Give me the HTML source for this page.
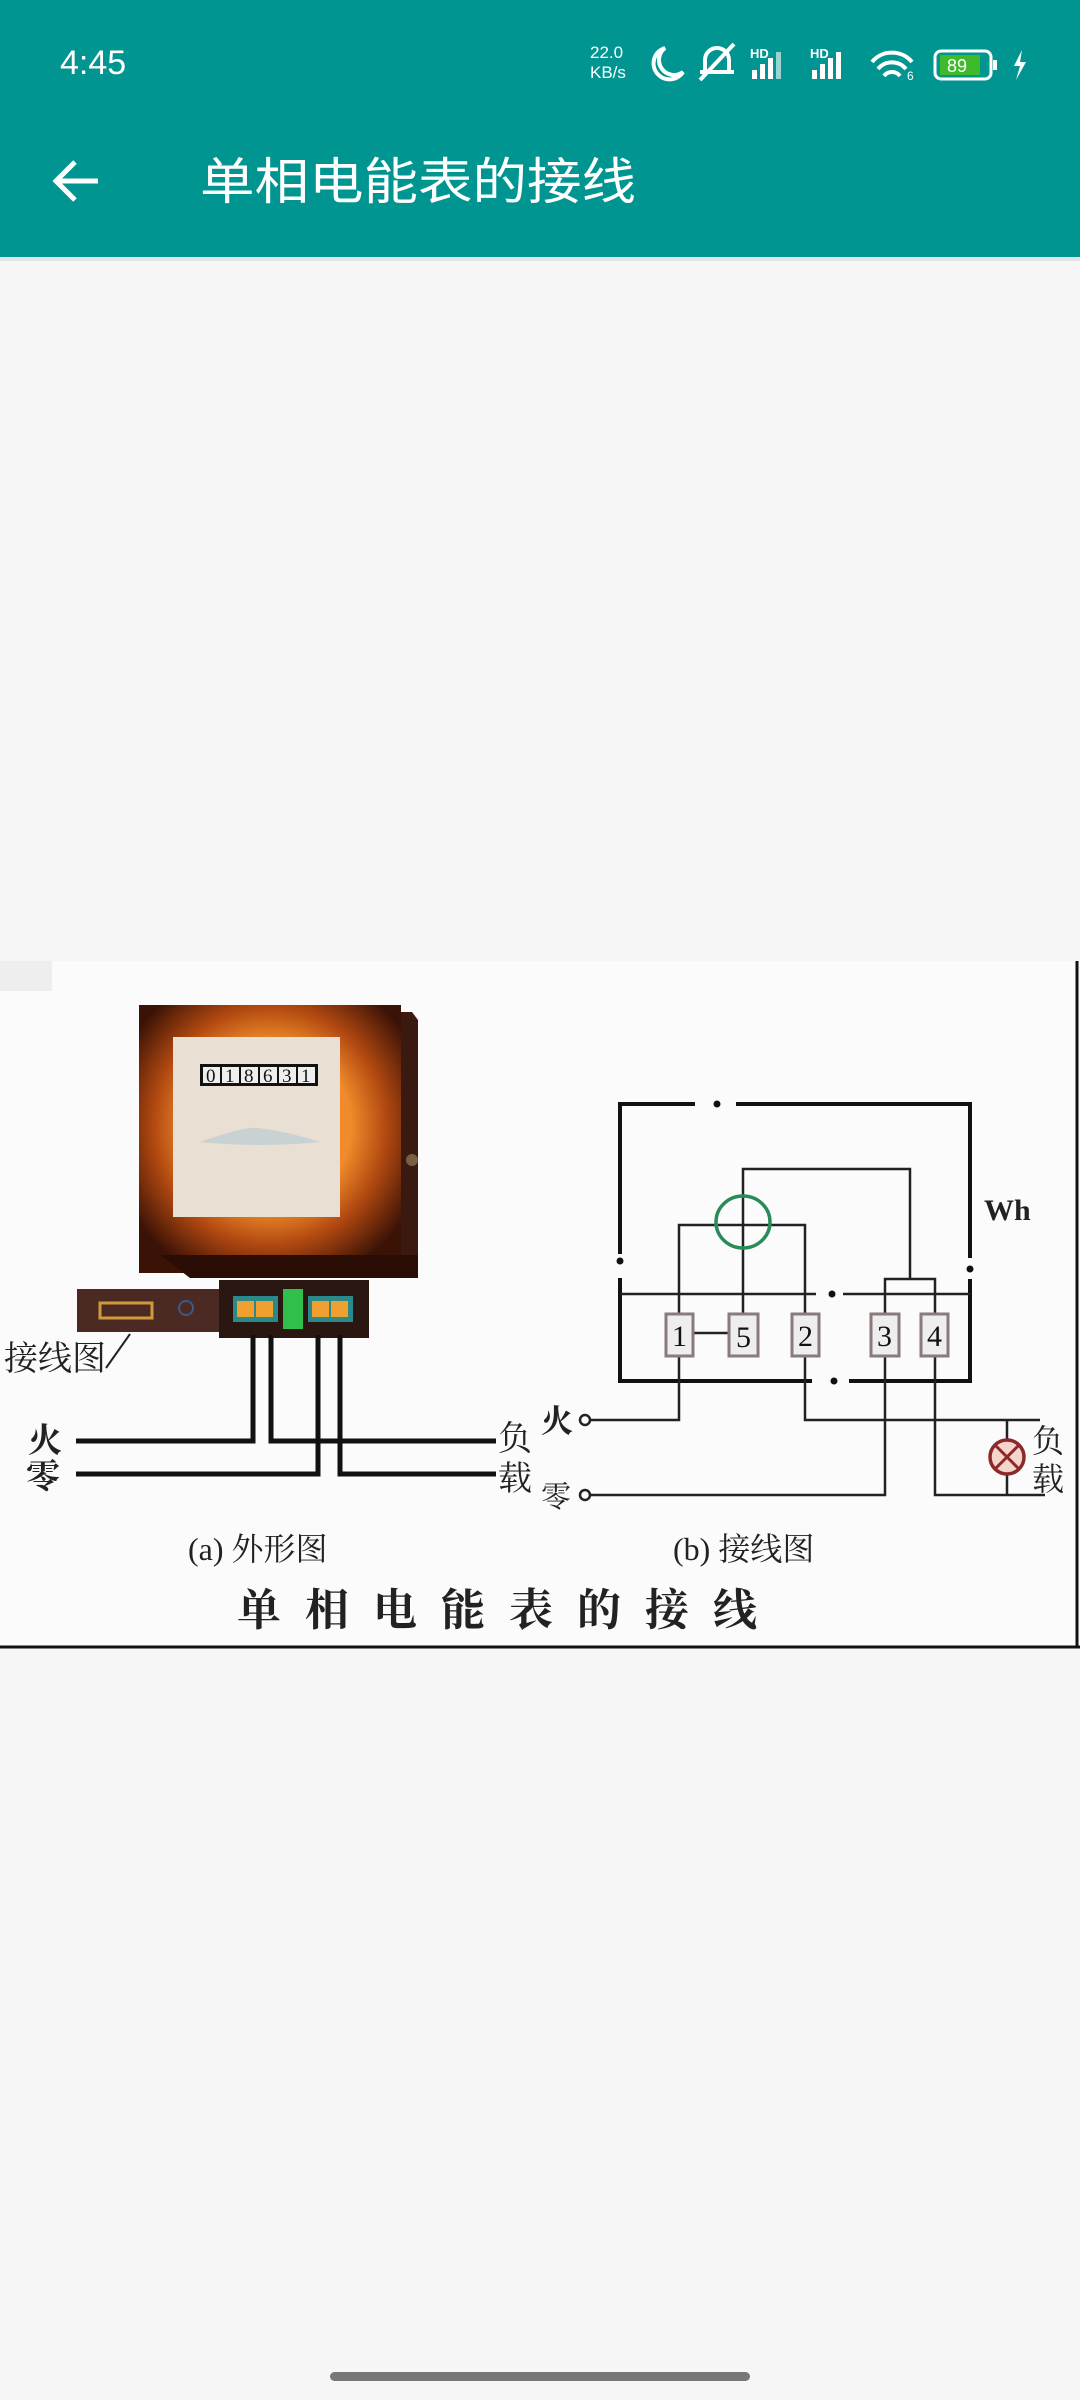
<!DOCTYPE html>
<html><head><meta charset="utf-8"><style>
html,body{margin:0;padding:0;width:1080px;height:2400px;overflow:hidden;background:#f6f6f6}
svg{display:block}
text{font-family:"Liberation Serif","Noto Serif CJK SC",serif}
.s{font-family:"Liberation Sans","Noto Sans CJK SC",sans-serif}
</style></head><body>
<svg width="1080" height="2400" viewBox="0 0 1080 2400" xmlns="http://www.w3.org/2000/svg">
<defs>
<radialGradient id="mg" cx="50%" cy="45%" r="62%">
<stop offset="0.5" stop-color="#f08a2a"/><stop offset="0.72" stop-color="#b04810"/><stop offset="1" stop-color="#3a1206"/>
</radialGradient>
</defs>
<!-- header -->
<rect x="0" y="0" width="1080" height="257" fill="#019592"/>
<rect x="0" y="257" width="1080" height="4" fill="#e4e4e4"/>
<text class="s" x="60" y="74" font-size="34" fill="#fff">4:45</text>
<text class="s" x="590" y="58" font-size="17" fill="#fff">22.0</text>
<text class="s" x="590" y="78" font-size="17" fill="#fff">KB/s</text>
<path d="M665 48 a16 16 0 1 0 18 24 a14 14 0 0 1 -18 -24z" fill="none" stroke="#fff" stroke-width="4"/>
<path d="M700 72 h34 M705 72 v-12 a12 12 0 0 1 24 0 v12 M700 80 l34 -36" fill="none" stroke="#fff" stroke-width="4"/>
<g fill="#fff"><text class="s" x="750" y="58" font-size="13" font-weight="bold">HD</text>
<rect x="752" y="70" width="5" height="9"/><rect x="760" y="64" width="5" height="15"/><rect x="768" y="58" width="5" height="21"/><rect x="776" y="52" width="5" height="27" opacity=".6"/>
<text class="s" x="810" y="58" font-size="13" font-weight="bold">HD</text>
<rect x="812" y="70" width="5" height="9"/><rect x="820" y="64" width="5" height="15"/><rect x="828" y="58" width="5" height="21"/><rect x="836" y="52" width="5" height="27"/></g>
<path d="M872 62 a26 26 0 0 1 40 0 M878 69 a18 18 0 0 1 28 0 M884 76 a10 10 0 0 1 16 0" fill="none" stroke="#fff" stroke-width="4"/>
<text class="s" x="907" y="80" font-size="12" fill="#fff">6</text>
<rect x="935" y="51" width="56" height="28" rx="6" fill="none" stroke="#fff" stroke-width="3"/>
<rect x="940" y="55" width="40" height="20" fill="#3fba2a"/>
<text class="s" x="947" y="72" font-size="18" fill="#fff">89</text>
<rect x="993" y="60" width="4" height="10" fill="#fff"/>
<path d="M1022 50 l-8 16 h6 l-4 14 l10 -18 h-6 z" fill="#fff"/>
<path d="M58 181 h40 M75 162 l-19 19 l19 19" fill="none" stroke="#fff" stroke-width="5"/>
<text class="s" x="200" y="199" font-size="50" fill="#fff" textLength="436" lengthAdjust="spacingAndGlyphs">单相电能表的接线</text>

<!-- diagram area -->
<rect x="0" y="961" width="1080" height="687" fill="#fbfbfb"/>
<rect x="0" y="961" width="52" height="30" fill="#eeeeee"/>
<line x1="1077" y1="961" x2="1077" y2="1648" stroke="#111" stroke-width="3"/>
<line x1="0" y1="1647" x2="1080" y2="1647" stroke="#111" stroke-width="3"/>

<!-- meter -->
<path d="M386 1012 h26 l6 8 v258 h-30z" fill="#3a1a10"/>
<rect x="139" y="1005" width="262" height="268" fill="url(#mg)"/>
<rect x="173" y="1037" width="167" height="180" fill="#e9dfd2"/>
<path d="M160 1255 L190 1278 H418 V1255Z" fill="#2a0e06"/>
<rect x="200" y="1064" width="118" height="22" fill="#111"/>
<g font-size="19" fill="#111">
<rect x="203" y="1067" width="17" height="16" fill="#eee"/><rect x="222" y="1067" width="17" height="16" fill="#eee"/><rect x="241" y="1067" width="17" height="16" fill="#eee"/><rect x="260" y="1067" width="17" height="16" fill="#eee"/><rect x="279" y="1067" width="17" height="16" fill="#eee"/><rect x="298" y="1067" width="17" height="16" fill="#eee"/>
<text x="206" y="1082">0</text><text x="225" y="1082">1</text><text x="244" y="1082">8</text><text x="263" y="1082">6</text><text x="282" y="1082">3</text><text x="301" y="1082">1</text></g>
<path d="M200 1142 Q245 1126 258 1128 Q290 1132 320 1142 Q260 1148 200 1142z" fill="#c8d2d2"/>
<circle cx="412" cy="1160" r="6" fill="#7a6040"/>
<rect x="219" y="1280" width="150" height="58" fill="#2b1712"/>
<rect x="77" y="1289" width="142" height="43" fill="#4a2a22"/>
<rect x="100" y="1303" width="52" height="15" fill="none" stroke="#d09a3a" stroke-width="3"/>
<circle cx="186" cy="1308" r="7" fill="none" stroke="#3a5a8a" stroke-width="2"/>
<rect x="233" y="1296" width="45" height="26" fill="#2a8a8a"/>
<rect x="237" y="1301" width="17" height="16" fill="#f0a030"/><rect x="256" y="1301" width="17" height="16" fill="#f0a030"/>
<rect x="283" y="1289" width="20" height="40" fill="#2fbf4a"/>
<rect x="308" y="1296" width="45" height="26" fill="#2a8a8a"/>
<rect x="312" y="1301" width="17" height="16" fill="#f0a030"/><rect x="331" y="1301" width="17" height="16" fill="#f0a030"/>
<line x1="106" y1="1368" x2="130" y2="1334" stroke="#222" stroke-width="2"/>
<g fill="none" stroke="#111" stroke-width="5">
<path d="M76 1441 H253 V1335"/>
<path d="M271 1335 V1441 H496"/>
<path d="M76 1474 H318 V1335"/>
<path d="M340 1335 V1474 H496"/>
</g>
<g fill="#222" font-size="34">
<text x="4" y="1370">接线图</text>
<text x="28" y="1452" font-weight="bold">火</text>
<text x="26" y="1488" font-weight="bold">零</text>
<text x="498" y="1450">负</text>
<text x="498" y="1490">载</text>
<text x="188" y="1560" font-size="32">(a) 外形图</text>
<text x="673" y="1560" font-size="32">(b) 接线图</text>
<text x="237" y="1625" font-size="44" font-weight="bold" textLength="520" lengthAdjust="spacing">单相电能表的接线</text>
<text x="984" y="1220" font-size="30" font-weight="bold">Wh</text>
<text x="541" y="1432" font-weight="bold" font-size="32">火</text>
<text x="541" y="1507" font-size="30">零</text>
<text x="1032" y="1452" font-size="32">负</text>
<text x="1032" y="1490" font-size="32">载</text>
</g>
<!-- schematic -->
<g fill="none" stroke="#111" stroke-width="4">
<path d="M695 1104 H620 V1254"/><path d="M736 1104 H970 V1258"/>
<path d="M620 1278 V1381 H812"/><path d="M849 1381 H970 V1279"/>
</g>
<g fill="none" stroke="#222" stroke-width="2.5">
<path d="M620 1294 H816 M843 1294 H970"/>
<path d="M679 1314 V1225 H805 V1314"/>
<path d="M743 1314 V1169 H910 V1279 M885 1314 V1279 H935 V1314"/>
<path d="M693 1333 H729"/>
<path d="M591 1420 H679 V1356"/>
<path d="M805 1356 V1420 H1040"/>
<path d="M591 1495 H885 V1356"/>
<path d="M935 1356 V1495 H1045"/>
<path d="M1007 1420 V1495"/>
<circle cx="585" cy="1420" r="5"/><circle cx="585" cy="1495" r="5"/>
</g>
<g fill="#111"><circle cx="717" cy="1104" r="3.5"/><circle cx="620" cy="1261" r="3.5"/><circle cx="970" cy="1269" r="3.5"/><circle cx="832" cy="1294" r="3.5"/><circle cx="834" cy="1381" r="3.5"/></g>
<ellipse cx="743" cy="1222" rx="27" ry="26" fill="none" stroke="#2a8a5a" stroke-width="3.5"/>
<g fill="#eeeeee" stroke="#8a7a7a" stroke-width="3">
<rect x="666" y="1314" width="27" height="42"/><rect x="729" y="1314" width="29" height="42"/><rect x="792" y="1314" width="27" height="42"/><rect x="871" y="1314" width="28" height="42"/><rect x="921" y="1314" width="27" height="42"/>
</g>
<g font-size="30" fill="#111">
<text x="672" y="1346">1</text><text x="736" y="1347">5</text><text x="798" y="1346">2</text><text x="877" y="1346">3</text><text x="927" y="1346">4</text>
</g>
<circle cx="1007" cy="1457" r="17" fill="#f6d6cc" stroke="#8b2a2a" stroke-width="3.5"/>
<path d="M995 1445 L1019 1469 M1019 1445 L995 1469" stroke="#8b2a2a" stroke-width="3"/>

<!-- nav pill -->
<rect x="330" y="2372" width="420" height="9" rx="4.5" fill="#777"/>
</svg>
</body></html>
